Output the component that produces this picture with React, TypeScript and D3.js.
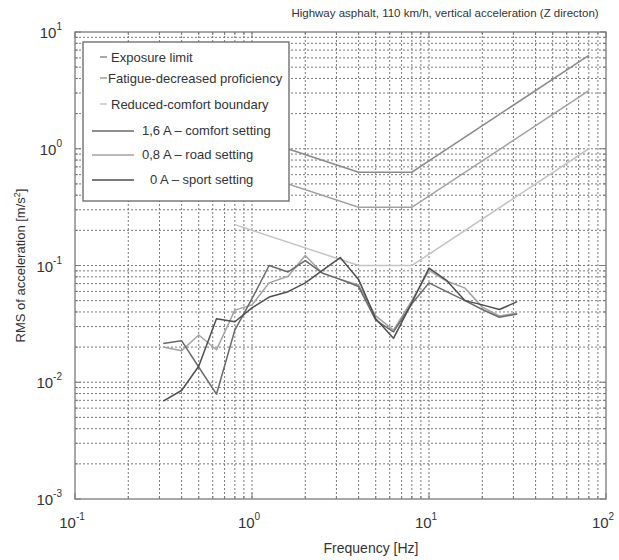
import React from "react";
import * as d3 from "d3";

const freqs = [0.315, 0.4, 0.5, 0.63, 0.8, 1, 1.25, 1.6, 2, 2.5, 3.15, 4, 5, 6.3, 8, 10, 12.5, 16, 20, 25, 31.5];
const comfortSetting = [0.0215, 0.0227, 0.0135, 0.0079, 0.028, 0.052, 0.1, 0.088, 0.11, 0.086, 0.076, 0.066, 0.034, 0.027, 0.047, 0.071, 0.06, 0.05, 0.042, 0.036, 0.0385];
const roadSetting = [0.02, 0.0186, 0.0254, 0.019, 0.0415, 0.046, 0.071, 0.081, 0.122, 0.086, 0.076, 0.068, 0.037, 0.028, 0.05, 0.091, 0.074, 0.064, 0.044, 0.037, 0.039];
const sportSetting = [0.0069, 0.0085, 0.0137, 0.035, 0.033, 0.0434, 0.0537, 0.0597, 0.071, 0.091, 0.117, 0.076, 0.035, 0.0238, 0.048, 0.095, 0.075, 0.05, 0.046, 0.042, 0.049];

const limitFreqs = [0.8, 4, 8, 80];
const exposureLimit = [1.41, 0.63, 0.63, 6.3];
const fatigueLimit = [0.705, 0.315, 0.315, 3.15];
const comfortLimit = [0.224, 0.1, 0.1, 1.0];

const xDecades = [-1, 0, 1, 2];
const yDecades = [-3, -2, -1, 0, 1];

const title = "Highway asphalt, 110 km/h, vertical acceleration (Z directon)";
const xLabel = "Frequency [Hz]";

const W = 619, H = 560;
const L = 75, R = 606, T = 32, B = 499;
const FONT = "'Liberation Sans', Arial, sans-serif";

export default function App() {
  const x = d3.scaleLog().domain([0.1, 100]).range([L, R]);
  const y = d3.scaleLog().domain([0.001, 10]).range([B, T]);

  const minorX: number[] = [];
  for (let d = -1; d < 2; d++) for (let m = 1; m <= 9; m++) minorX.push(m * Math.pow(10, d));
  minorX.push(100);
  const minorY: number[] = [];
  for (let d = -3; d < 1; d++) for (let m = 1; m <= 9; m++) minorY.push(m * Math.pow(10, d));
  minorY.push(10);

  const line = d3.line<[number, number]>().x(d => x(d[0])).y(d => y(d[1]));
  const mk = (fs: number[], vs: number[]) => line(fs.map((f, i) => [f, vs[i]] as [number, number])) || "";

  const isMajor = (v: number) => Math.abs(Math.log10(v) - Math.round(Math.log10(v))) < 1e-6;

  const gridColor = "#6a6a6a";
  const frameColor = "#7a7a7a";

  const legendItems = [
    { label: "Exposure limit", color: "#8a8a8a", short: true, tx: 111, ly: 62 },
    { label: "Fatigue-decreased proficiency", color: "#a0a0a0", short: true, tx: 108, ly: 83 },
    { label: "Reduced-comfort boundary", color: "#c4c4c4", short: true, tx: 111, ly: 109 },
    { label: "1,6 A \u2013 comfort setting", color: "#6a6a6a", short: false, tx: 142, ly: 135 },
    { label: "0,8 A \u2013 road setting", color: "#a2a2a2", short: false, tx: 142, ly: 159 },
    { label: "0 A \u2013 sport setting", color: "#4e4e4e", short: false, tx: 150, ly: 184 },
  ];

  return (
    <svg width={W} height={H} style={{ position: "absolute", left: 0, top: 0, background: "#fff" }} fontFamily={FONT}>
      <rect x={0} y={0} width={W} height={H} fill="#fff" />
      <g stroke={gridColor} strokeWidth={0.9} strokeDasharray="2,2">
        {minorX.slice(1, -1).map((v, i) => (
          <line key={"gx" + i} x1={x(v)} x2={x(v)} y1={T} y2={B} />
        ))}
        {minorY.slice(1, -1).map((v, i) => (
          <line key={"gy" + i} x1={L} x2={R} y1={y(v)} y2={y(v)} />
        ))}
      </g>
      <g stroke={frameColor} strokeWidth={1}>
        {minorX.map((v, i) => {
          const len = isMajor(v) ? 6 : 3;
          return (
            <g key={"tx" + i}>
              <line x1={x(v)} x2={x(v)} y1={B} y2={B - len} />
              <line x1={x(v)} x2={x(v)} y1={T} y2={T + len} />
            </g>
          );
        })}
        {minorY.map((v, i) => {
          const len = isMajor(v) ? 6 : 3;
          return (
            <g key={"ty" + i}>
              <line x1={L} x2={L + len} y1={y(v)} y2={y(v)} />
              <line x1={R} x2={R - len} y1={y(v)} y2={y(v)} />
            </g>
          );
        })}
      </g>
      <g fill="none" strokeWidth={1.5}>
        <path d={mk(limitFreqs, comfortLimit)} stroke="#c4c4c4" />
        <path d={mk(limitFreqs, fatigueLimit)} stroke="#a0a0a0" />
        <path d={mk(limitFreqs, exposureLimit)} stroke="#8a8a8a" />
      </g>
      <g fill="none" strokeWidth={1.5} strokeLinejoin="round">
        <path d={mk(freqs, roadSetting)} stroke="#a2a2a2" />
        <path d={mk(freqs, comfortSetting)} stroke="#6a6a6a" />
        <path d={mk(freqs, sportSetting)} stroke="#4e4e4e" />
      </g>
      <rect x={L} y={T} width={R - L} height={B - T} fill="none" stroke={frameColor} strokeWidth={1.3} />
      <rect x={83} y={42} width={206} height={159} fill="#fff" stroke="#666" strokeWidth={1.3} />
      {legendItems.map((it, i) => (
        <g key={"lg" + i}>
          {it.short ? (
            <line x1={100} x2={107} y1={it.ly - 5} y2={it.ly - 5} stroke={it.color} strokeWidth={1.5} />
          ) : (
            <line x1={92} x2={134} y1={it.ly - 4} y2={it.ly - 4} stroke={it.color} strokeWidth={1.5} />
          )}
          <text x={it.tx} y={it.ly} fontSize={13} fill="#333">{it.label}</text>
        </g>
      ))}
      {xDecades.map(d => (
        <text key={"xl" + d} x={x(Math.pow(10, d)) - 3} y={528} fontSize={15} fill="#333" textAnchor="middle">
          10<tspan dy={-8} fontSize={10}>{d}</tspan>
        </text>
      ))}
      {yDecades.map(d => (
        <text key={"yl" + d} x={L - 13} y={y(Math.pow(10, d)) + 6} fontSize={15} fill="#333" textAnchor="end">
          10<tspan dy={-8} fontSize={10}>{d}</tspan>
        </text>
      ))}
      <text x={371} y={553} fontSize={14} fill="#333" textAnchor="middle">{xLabel}</text>
      <text transform={`translate(25,${(T + B) / 2}) rotate(-90)`} fontSize={13} fill="#333" textAnchor="middle">
        RMS of acceleration [m/s<tspan dy={-5} fontSize={9}>2</tspan><tspan dy={5}>]</tspan>
      </text>
      <text x={445} y={17} fontSize={11.5} fill="#333" textAnchor="middle">{title}</text>
    </svg>
  );
}
